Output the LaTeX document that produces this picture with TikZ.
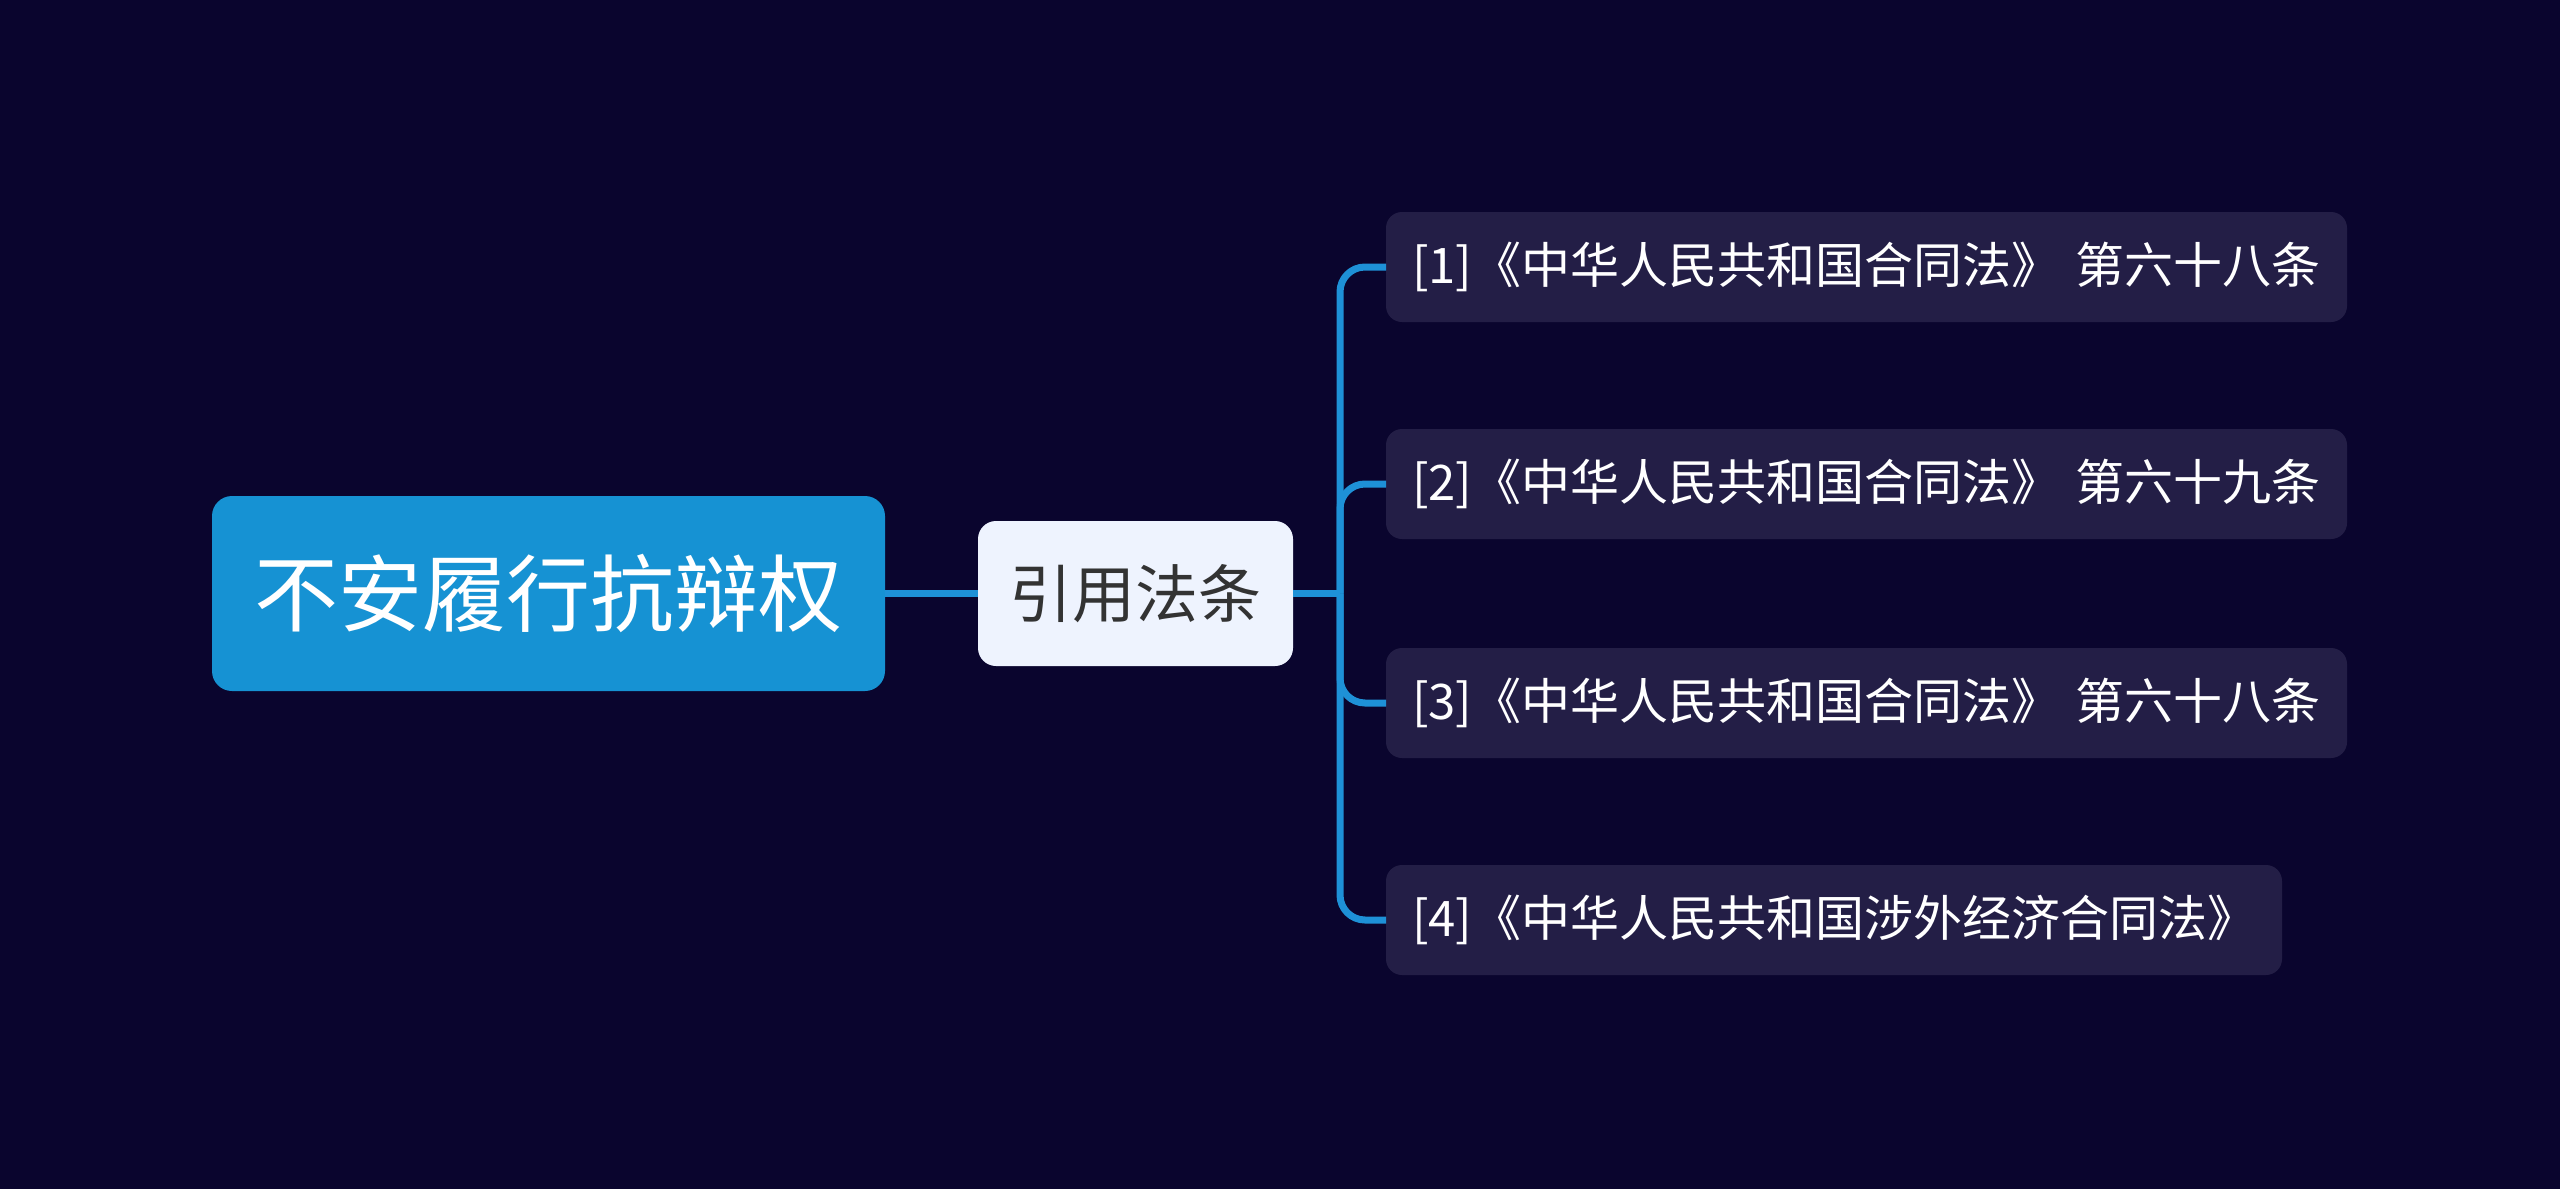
\documentclass[tikz,border=0pt]{standalone}
\usepackage{fontspec}
\setmainfont{Noto Sans CJK SC}
\definecolor{bgcol}{RGB}{10,5,46}
\definecolor{rootblue}{RGB}{22,146,211}
\definecolor{midfill}{RGB}{238,243,254}
\definecolor{midtext}{RGB}{51,51,51}
\definecolor{leaffill}{RGB}{35,30,70}
\definecolor{linkblue}{RGB}{30,145,215}
\begin{document}
\begin{tikzpicture}[x=1pt,y=-1pt,
  every node/.style={inner sep=0pt, outer sep=0pt},
  rootbox/.style={fill=rootblue, rounded corners=20pt, minimum width=673pt, minimum height=195pt, text=white, font=\fontsize{84}{100}\selectfont},
  midbox/.style={fill=midfill, rounded corners=18pt, minimum width=315pt, minimum height=145pt, text=midtext, font=\fontsize{63}{76}\selectfont},
  leafbox/.style={fill=leaffill, rounded corners=16pt, minimum height=110pt, anchor=west, text=white, inner xsep=26pt, align=left, font=\fontsize{49}{60}\selectfont},
  link/.style={draw=linkblue, line width=7pt},
  branch/.style={draw=linkblue, line width=7pt, rounded corners=25pt},
]
\fill[bgcol] (0,0) rectangle (2560,1189);
\useasboundingbox (0,0) rectangle (2560,1189);

\coordinate (jn) at (1340,593.5);

\node[rootbox] (root) at (548.5,593.5) {不安履行抗辩权};
\node[midbox] (mid) at (1135.5,593.5) {引用法条};

\node[leafbox, text width=909pt] (l1) at (1386,267) {\mbox{[1]《中华人民共和国合同法》\hspace{0.3em}第六十八条}};
\node[leafbox, text width=909pt] (l2) at (1386,484) {\mbox{[2]《中华人民共和国合同法》\hspace{0.3em}第六十九条}};
\node[leafbox, text width=909pt] (l3) at (1386,703) {\mbox{[3]《中华人民共和国合同法》\hspace{0.3em}第六十八条}};
\node[leafbox, text width=844pt] (l4) at (1386,920) {\mbox{[4]《中华人民共和国涉外经济合同法》}};

\draw[link] (root.east) -- (mid.west);
\draw[link] (mid.east) -- (jn);
\draw[branch] (jn) |- (l1.west);
\draw[branch] (jn) |- (l2.west);
\draw[branch] (jn) |- (l3.west);
\draw[branch] (jn) |- (l4.west);
\end{tikzpicture}
\end{document}
